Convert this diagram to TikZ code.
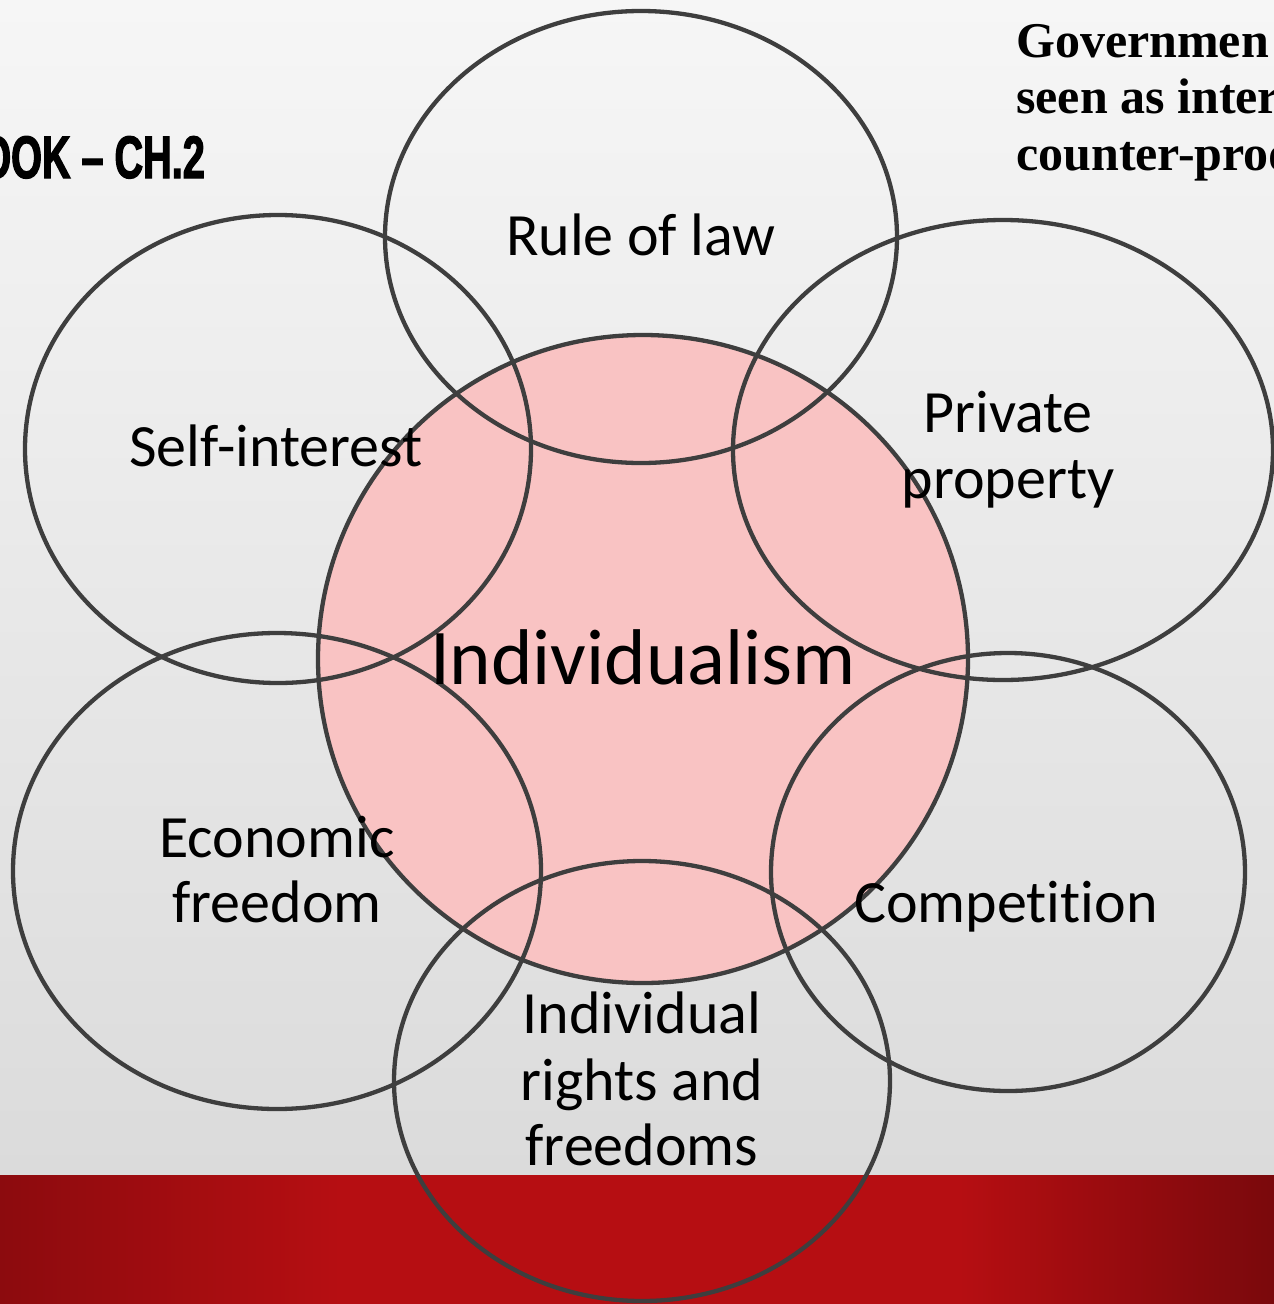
\documentclass[tikz,border=0pt]{standalone}
\usepackage{fontspec}
\setmainfont[RawFeature={-liga;-clig;-calt;-dlig}]{Carlito}
\newfontfamily\titlefont[FakeStretch=0.66, FakeBold=2]{Liberation Sans}
\newfontfamily\notefont[FakeStretch=1.0]{Liberation Serif}
\usetikzlibrary{shapes.geometric}

\definecolor{ringline}{HTML}{3E3E3E}
\definecolor{corepink}{HTML}{F9C3C3}
\definecolor{bgtop}{HTML}{F6F6F6}
\definecolor{bgbottom}{HTML}{DBDBDB}
\definecolor{bandmid}{HTML}{B60E12}
\definecolor{bandleft}{HTML}{8C0B0E}
\definecolor{bandright}{HTML}{7A090C}

\tikzset{
  venn/.style={ellipse, draw=ringline, line width=4.3pt, inner sep=0pt, outer sep=0pt},
  lbl/.style={anchor=base, inner sep=0pt, text=black, font=\fontsize{60}{66}\selectfont},
  biglbl/.style={anchor=base, inner sep=0pt, text=black, font=\fontsize{79}{90}\selectfont},
  notetxt/.style={anchor=base west, inner sep=0pt, font=\notefont\bfseries\fontsize{50}{56}\selectfont},
}

\begin{document}
\begin{tikzpicture}[x=1pt, y=-1pt]
  \useasboundingbox (0,0) rectangle (1274,1304);
  \clip (0,0) rectangle (1274,1304);

  % slide background and bottom band
  \shade[top color=bgtop, bottom color=bgbottom] (0,0) rectangle (1274,1176);
  \fill[bandmid] (340,1175) rectangle (960,1304);
  \shade[left color=bandleft, right color=bandmid] (0,1175) rectangle (341,1304);
  \shade[left color=bandmid, right color=bandright] (959,1175) rectangle (1274,1304);

  % title and note, running off the slide edges
  \node[anchor=base east, inner sep=0pt, font=\titlefont\bfseries\fontsize{60}{66}\selectfont] (title) at (205,178) {OOK – CH.2};
  \node[notetxt] (note1) at (1016,57) {Governmen};
  \node[notetxt] (note2) at (1016,113) {seen as inter};
  \node[notetxt] (note3) at (1016,170) {counter-prod};

  % central circle
  \node[venn, fill=corepink, minimum width=650pt, minimum height=648pt] (core) at (643,659) {};

  % surrounding ellipses
  \node[venn, minimum width=512pt, minimum height=452pt] (law) at (641,237) {};
  \node[venn, minimum width=506pt, minimum height=468pt] (self) at (278,449) {};
  \node[venn, minimum width=540pt, minimum height=460pt] (prop) at (1003,450) {};
  \node[venn, minimum width=528pt, minimum height=476pt] (econ) at (277,871) {};
  \node[venn, minimum width=474pt, minimum height=438pt] (comp) at (1008,872) {};
  \node[venn, minimum width=496pt, minimum height=440pt] (rights) at (642,1081) {};

  % labels
  \node[lbl] (lawtxt) at (641,255) {Rule of law};
  \node[lbl] (selftxt) at (276,466) {Self-interest};
  \node[lbl] (proptxta) at (1008,432) {Private};
  \node[lbl] (proptxtb) at (1008,498) {property};
  \node[biglbl] (coretxt) at (643,684) {Individualism};
  \node[lbl] (econtxta) at (277,857) {Economic};
  \node[lbl] (econtxtb) at (277,922) {freedom};
  \node[lbl] (comptxt) at (1006,922) {Competit\kern0pt ion};
  \node[lbl] (rightstxta) at (642,1033) {Individual};
  \node[lbl] (rightstxtb) at (642,1100) {rights and};
  \node[lbl] (rightstxtc) at (642,1165) {freedoms};
\end{tikzpicture}
\end{document}
